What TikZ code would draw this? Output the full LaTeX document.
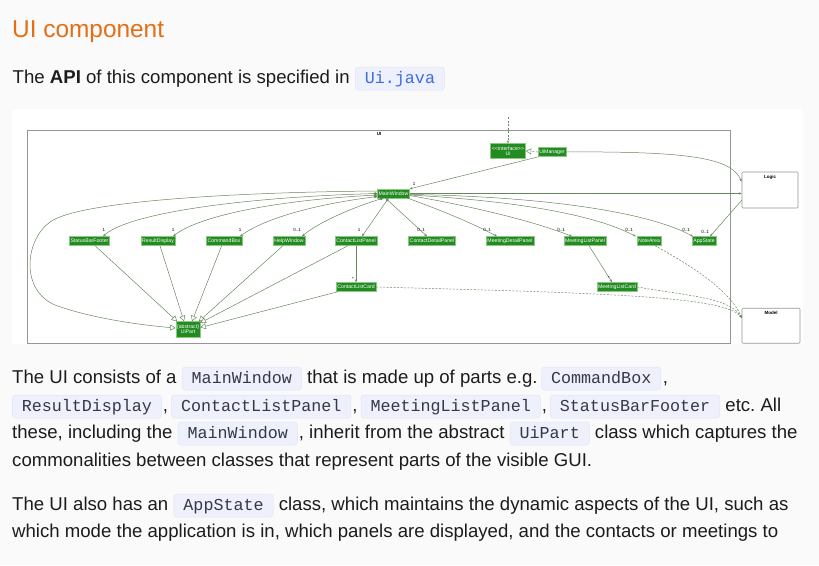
\documentclass[tikz,border=0pt]{standalone}
\usepackage{fontspec}
\setmainfont{Liberation Sans}
\setmonofont{Liberation Mono}
\usetikzlibrary{arrows.meta,calc}
\definecolor{pagebg}{RGB}{250,250,250}
\definecolor{titleor}{RGB}{228,110,20}
\definecolor{bodytxt}{RGB}{28,28,30}
\definecolor{codebg}{RGB}{238,240,251}
\definecolor{codeline}{RGB}{226,229,245}
\definecolor{codefg}{RGB}{52,56,72}
\definecolor{linkblue}{RGB}{60,110,225}
\definecolor{nodegreen}{RGB}{34,139,34}
\definecolor{nodeedge}{RGB}{140,200,130}
\definecolor{edgec}{RGB}{105,135,95}
\definecolor{boxgray}{RGB}{150,150,150}
\newcommand{\fsz}[1]{\fontsize{#1}{#1}\selectfont}
\tikzset{
  body/.style={font=\fsz{18.6}\frenchspacing, text=bodytxt, inner sep=0pt, anchor=base west},
  codebox/.style={font=\ttfamily\fsz{16.7}, text=codefg, fill=codebg, draw=codeline,
    line width=0.5pt, rounded corners=3pt, inner xsep=9.5pt, inner ysep=0pt,
    text height=16pt, text depth=7pt, anchor=base west},
  uml/.style={fill=nodegreen, draw=nodeedge, line width=0.35pt, text=white,
    font=\fsz{5.2}, inner xsep=1.2pt, inner ysep=0pt, minimum height=9pt},
  lbl/.style={font=\fsz{4.5}, text=black, inner sep=0pt},
  edge/.style={draw=edgec, line width=0.5pt},
  dsh/.style={dash pattern=on 2pt off 1.5pt},
  tipA/.style={-{Stealth[length=3pt,width=2.4pt]}},
  compo/.style={{Diamond[length=4pt,width=2.6pt]}-{Stealth[length=3pt,width=2.4pt]}},
  inh/.style={-{Triangle[open,length=5.5pt,width=6pt,fill=white]}},
  extbox/.style={draw=boxgray, fill=white, rounded corners=1pt, line width=0.6pt}
}
\begin{document}
\frenchspacing
\begin{tikzpicture}[x=1pt,y=-1pt]
\fill[pagebg] (0,0) rectangle (819,565);
\useasboundingbox (0,0) rectangle (819,565);
\fill[white] (12,109) rectangle (803,344);

% ---------- text above ----------
\node[anchor=base west, inner sep=0pt, font=\fsz{24.4}, text=titleor] (title) at (12,37) {UI component};
\node[body] (api) at (12.5,83) {The \textbf{API} of this component is specified in};
\node[codebox, text=linkblue] (uij) at ($(api.base east)+(5.2,0)$) {Ui.java};

% ---------- diagram ----------
\node[draw=boxgray, line width=0.6pt, minimum width=703pt, minimum height=213pt, inner sep=0pt] (pkg) at (378.5,236.5) {};
\node[lbl, font=\bfseries\fsz{4.5}] (pkglbl) at (379,134) {UI};

\node[extbox, minimum width=56pt, minimum height=36pt] (logic) at (770,190) {};
\node[lbl, font=\bfseries\fsz{4.5}] (logiclbl) at (770,177) {Logic};
\node[extbox, minimum width=58pt, minimum height=35pt] (model) at (771,325.7) {};
\node[lbl, font=\bfseries\fsz{4.5}] (modellbl) at (771,313) {Model};

\node[uml, align=center, minimum width=35pt, minimum height=15pt] (ui) at (508,151) {{<}{<}interface{>}{>}\\Ui};
\node[uml] (uim) at (552,152) {UiManager};
\node[uml] (mw) at (393.5,193.5) {MainWindow};

\node[uml] (sbf) at (89.5,241) {StatusBarFooter};
\node[uml] (rd) at (158,241) {ResultDisplay};
\node[uml] (cb) at (224,241) {CommandBox};
\node[uml] (hw) at (289,241) {HelpWindow};
\node[uml] (clp) at (356,241) {ContactListPanel};
\node[uml] (cdp) at (432,241) {ContactDetailPanel};
\node[uml] (mdp) at (510,241) {MeetingDetailPanel};
\node[uml] (mlp) at (585,241) {MeetingListPanel};
\node[uml] (na) at (649,241) {NoteArea};
\node[uml] (as) at (704,241) {AppState};
\node[uml] (clc) at (356,287) {ContactListCard};
\node[uml] (mlc) at (617,287) {MeetingListCard};
\node[uml, align=center, minimum width=24pt, minimum height=16pt] (up) at (188,329.5) {\{abstract\}\\UiPart};

% external entry into Ui
\coordinate (uitop) at (508,117);
\draw[edge,dsh,tipA] (uitop) -- (ui.north);
% UiManager realizes Ui
\draw[edge,dsh,inh] (uim.west) -- (ui.east);
% UiManager -> MainWindow
\draw[edge,tipA] ($(uim.south west)+(1,0)$) -- (mw.north east);
\node[lbl] (l-uim) at (414,184) {1};
% UiManager -> Logic
\draw[edge,tipA] (uim.east) .. controls (700,151) and (732,160) .. ($(logic.north west)+(0,10)$);
% MainWindow -> Logic
\draw[edge,tipA] (mw.east) -- (mw.east -| logic.west);
% Logic -> AppState
\draw[edge,tipA] ($(logic.south west)+(0,-8)$) -- ($(as.north east)+(-6,0)$);
\node[lbl] (l-las) at (705,232) {0..1};

% MainWindow -> left children (composition)
\draw[edge,compo] ($(mw.west)+(0,0)$) .. controls (250,197) and (130,212) .. ($(sbf.north)+(13.5,0)$);
\draw[edge,compo] ($(mw.west)+(0,1.5)$) .. controls (280,200) and (200,215) .. ($(rd.north)+(15,0)$);
\draw[edge,compo] ($(mw.west)+(0,3)$) .. controls (310,205) and (262,220) .. ($(cb.north)+(16,0)$);
\draw[edge,compo] ($(mw.south west)+(6,0)$) .. controls (345,210) and (315,225) .. ($(hw.north)+(13,0)$);
\draw[edge,compo] ($(mw.south)+(-5,0)$) -- ($(clp.north)+(6,0)$);
\node[lbl] (l-sbf) at (104,230) {1};
\node[lbl] (l-rd) at (173,230) {1};
\node[lbl] (l-cb) at (240,230) {1};
\node[lbl] (l-hw) at (297,230) {0..1};
\node[lbl] (l-clp) at (359,230) {1};

% MainWindow -> right children
\draw[edge,tipA] ($(mw.south)+(-8,0)$) -- ($(cdp.north)+(-5,0)$);
\draw[edge,tipA] ($(mw.south east)+(-2,0)$) .. controls (440,210) and (470,222) .. ($(mdp.north)+(-13,0)$);
\draw[edge,tipA] ($(mw.east)+(0,2)$) .. controls (470,206) and (530,220) .. ($(mlp.north)+(-13,0)$);
\draw[edge,tipA] ($(mw.east)+(0,1.5)$) .. controls (500,200) and (590,212) .. ($(na.north west)+(-1,0)$);
\draw[edge,tipA] ($(mw.east)+(0,1)$) .. controls (520,196) and (640,208) .. ($(as.north west)+(1,0)$);
\node[lbl] (l-cdp) at (421,230) {0..1};
\node[lbl] (l-mdp) at (487,230) {0..1};
\node[lbl] (l-mlp) at (561,230) {0..1};
\node[lbl] (l-na) at (629,230) {0..1};
\node[lbl] (l-as) at (686,230) {0..1};

% panels -> cards
\draw[edge,tipA] (clp.south) -- (clc.north);
\node[lbl] (l-clc) at (353,279) {*};
\draw[edge,tipA] ($(mlp.south)+(4,0)$) -- ($(mlc.north)+(-5,0)$);
\node[lbl] (l-mlc) at (609,278) {*};

% inheritance to UiPart
\draw[edge,inh] ($(sbf.south)+(5.5,0)$) -- ($(up.north west)+(1.5,0)$);
\draw[edge,inh] ($(rd.south)+(2,0)$) -- ($(up.north)+(-4,0)$);
\draw[edge,inh] ($(cb.south)+(-2.3,0)$) -- ($(up.north)+(4,0)$);
\draw[edge,inh] ($(hw.south)+(-6,0)$) -- ($(up.north east)+(-1.5,0)$);
\draw[edge,inh] ($(clp.south)+(-8,0)$) -- ($(up.north east)+(0,1.5)$);
\draw[edge,inh] ($(clc.south west)+(2,0)$) -- ($(up.east)+(0,-2)$);
\draw[edge,inh] ($(mw.west)+(0,-2.5)$) .. controls (250,192) and (80,200) .. (50,222)
   .. controls (25,240) and (20,290) .. (55,305)
   .. controls (90,318) and (140,325) .. ($(up.west)+(0,-1.5)$);

% dependencies on Model
\draw[edge,dsh,tipA] (clc.east) .. controls (600,293) and (725,296) .. ($(model.north west)+(0,10)$);
\draw[edge,dsh,tipA] (mlc.east) .. controls (690,296) and (730,298) .. ($(model.north west)+(0,10)$);
\draw[edge,dsh,tipA] ($(na.south)+(6,0)$) .. controls (690,265) and (730,290) .. ($(model.north west)+(0,10)$);

% ---------- text below ----------
\node[body] (a1) at (12,383) {The UI consists of a};
\node[codebox] (a2) at ($(a1.base east)+(5.2,0)$) {MainWindow};
\node[body] (a3) at ($(a2.base east)+(5.2,0)$) {that is made up of parts e.g.};
\node[codebox] (a4) at ($(a3.base east)+(3.5,0)$) {CommandBox};
\node[body] (a5) at ($(a4.base east)+(1.5,0)$) {,};

\node[codebox] (b1) at (12,411) {ResultDisplay};
\node[body] (b2) at ($(b1.base east)+(1,0)$) {,};
\node[codebox] (b3) at ($(b2.base east)+(3,0)$) {ContactListPanel};
\node[body] (b4) at ($(b3.base east)+(1,0)$) {,};
\node[codebox] (b5) at ($(b4.base east)+(3,0)$) {MeetingListPanel};
\node[body] (b6) at ($(b5.base east)+(1,0)$) {,};
\node[codebox] (b7) at ($(b6.base east)+(3,0)$) {StatusBarFooter};
\node[body] (b8) at ($(b7.base east)+(5.2,0)$) {etc. All};

\node[body] (c1) at (12,438) {these, including the};
\node[codebox] (c2) at ($(c1.base east)+(5.2,0)$) {MainWindow};
\node[body] (c3) at ($(c2.base east)+(1,0)$) {, inherit from the abstract};
\node[codebox] (c4) at ($(c3.base east)+(5.2,0)$) {UiPart};
\node[body] (c5) at ($(c4.base east)+(5.2,0)$) {class which captures the};

\node[body] (d1) at (12,466) {commonalities between classes that represent parts of the visible GUI.};

\node[body] (e1) at (12,510) {The UI also has an};
\node[codebox] (e2) at ($(e1.base east)+(5.2,0)$) {AppState};
\node[body] (e3) at ($(e2.base east)+(5.2,0)$) {class, which maintains the dynamic aspects of the UI, such as};

\node[body] (f1) at (12,537) {which mode the application is in, which panels are displayed, and the contacts or meetings to};
\end{tikzpicture}
\end{document}
